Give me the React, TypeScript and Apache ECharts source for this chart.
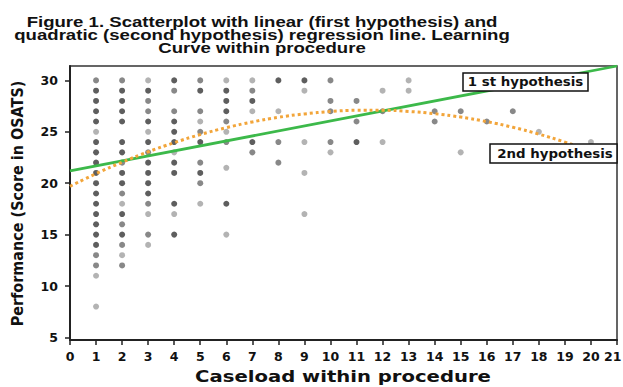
import React, { useEffect, useRef } from "react";
import * as echarts from "echarts";

// Scatter points [caseload, score], grouped by how dark the dot appears (overlap density)
const darkPoints: number[][] = [
  [1, 29], [1, 28], [1, 27], [1, 26], [1, 24], [1, 23], [1, 22], [1, 21], [1, 20], [1, 19], [1, 18], [1, 17], [1, 16], [1, 15], [1, 14],
  [2, 29], [2, 28], [2, 27], [2, 26], [2, 24], [2, 23], [2, 21], [2, 20], [2, 17], [2, 15],
  [3, 29], [3, 26], [3, 24], [3, 22], [3, 21], [3, 20], [3, 19],
  [4, 30], [4, 26], [4, 25], [4, 24], [4, 22], [4, 21], [4, 18], [4, 15],
  [5, 29], [5, 24], [5, 21],
  [6, 29], [6, 28], [6, 27], [6, 18],
  [7, 28], [7, 24],
  [8, 30], [9, 30], [11, 24],
];
const midPoints: number[][] = [
  [1, 30], [1, 13], [1, 12],
  [2, 30], [2, 22], [2, 19], [2, 16], [2, 14], [2, 12],
  [3, 28], [3, 27], [3, 23], [3, 18], [3, 15],
  [4, 29], [4, 27],
  [5, 30], [5, 27], [5, 25], [5, 22], [5, 20],
  [6, 26], [6, 24],
  [7, 29], [7, 23],
  [8, 24], [8, 22],
  [10, 30], [10, 28], [10, 27], [10, 24],
  [11, 28], [11, 26],
  [12, 27], [14, 27], [14, 26], [15, 27], [16, 26], [17, 27],
];
const lightPoints: number[][] = [
  [1, 25], [1, 11], [1, 8],
  [2, 18], [2, 13],
  [3, 30], [3, 25], [3, 17], [3, 14],
  [4, 23], [4, 17],
  [5, 26], [5, 18],
  [6, 30], [6, 25], [6, 21.5], [6, 15],
  [7, 30], [7, 27],
  [8, 27],
  [9, 29], [9, 24], [9, 21], [9, 17],
  [10, 23],
  [12, 29], [12, 24],
  [13, 30], [13, 29],
  [15, 23], [18, 25], [20, 24],
];

// Linear fit (first hypothesis), read at both ends
const linearX = [0, 21];
const linearY = [21.2, 31.4];

// Quadratic fit (second hypothesis), read at each integer caseload
const quadX = [0, 1, 2, 3, 4, 5, 6, 7, 8, 9, 10, 11, 12, 13, 14, 15, 16, 17, 18, 19, 20, 21];
const quadY = [19.7, 20.93, 22.04, 23.05, 23.94, 24.73, 25.4, 25.96, 26.41, 26.74, 26.97, 27.09, 27.09, 26.98, 26.76, 26.43, 25.99, 25.44, 24.77, 24.0, 23.11, 22.12];

const yTicks = [5, 10, 15, 20, 25, 30];
const xMax = 21;

const titleLines = [
  "Figure 1. Scatterplot with linear (first hypothesis) and",
  "quadratic (second hypothesis) regression line. Learning",
  "Curve within procedure",
];

const FONT = '"DejaVu Sans", Verdana, sans-serif';
const ARIAL = '"Liberation Sans", Arial, sans-serif';

export default function App() {
  const ref = useRef<HTMLDivElement>(null);
  useEffect(() => {
    if (!ref.current) return;
    const chart = echarts.init(ref.current, undefined, { renderer: "svg" });
    const dot = (data: number[][], color: string) => ({
      type: "scatter",
      data,
      symbolSize: 6,
      itemStyle: { color },
      z: 2,
    });
    const option: any = {
      animation: false,
      backgroundColor: "#ffffff",
      grid: {
        left: 70,
        right: 6,
        top: 66,
        bottom: 47,
        show: true,
        borderColor: "#333",
        borderWidth: 1.5,
        containLabel: false,
        outerBoundsMode: "none",
      },
      xAxis: {
        type: "value",
        min: 0,
        max: xMax,
        interval: 1,
        axisLine: { show: true, lineStyle: { color: "#222", width: 2 } },
        axisTick: { show: true, length: 5, lineStyle: { color: "#222", width: 1.5 } },
        splitLine: { show: false },
        axisLabel: {
          color: "#111",
          fontFamily: FONT,
          fontWeight: "bold",
          fontSize: 12.5,
          margin: 10,
          showMinLabel: true,
          showMaxLabel: true,
          formatter: (v: number) => (v === xMax ? `{e|${v}}` : String(v)),
          rich: {
            e: {
              width: 26,
              align: "left",
              color: "#111",
              fontFamily: FONT,
              fontWeight: "bold",
              fontSize: 12.5,
            },
          },
        },
      },
      yAxis: {
        type: "value",
        min: 4.75,
        max: 31.4,
        axisLine: { show: true, lineStyle: { color: "#222", width: 2 } },
        axisTick: { show: true, length: 5, customValues: yTicks, lineStyle: { color: "#222", width: 1.5 } },
        splitLine: { show: false },
        axisLabel: {
          customValues: yTicks,
          color: "#111",
          fontFamily: FONT,
          fontWeight: "bold",
          fontSize: 12.5,
          margin: 12,
        },
      },
      series: [
        dot(lightPoints, "#a0a0a0"),
        dot(midPoints, "#6a6a6a"),
        dot(darkPoints, "#363636"),
        {
          type: "line",
          data: linearX.map((x, i) => [x, linearY[i]]),
          showSymbol: false,
          lineStyle: { color: "#3cb94a", width: 2.8 },
          z: 3,
        },
        {
          type: "line",
          data: quadX.map((x, i) => [x, quadY[i]]),
          showSymbol: false,
          smooth: true,
          lineStyle: { color: "#f2a53a", width: 3, type: [3, 3] },
          z: 4,
        },
      ],
      graphic: [
        ...titleLines.map((t, i) => ({
          type: "text",
          x: 262,
          y: [21.7, 35, 47.7][i],
          scaleX: 1.24,
          z: 10,
          style: {
            text: t,
            font: `bold 15px ${ARIAL}`,
            textAlign: "center",
            textVerticalAlign: "middle",
            fill: "#111",
          },
        })),
        {
          type: "text",
          x: 17.5,
          y: 203.5,
          rotation: Math.PI / 2,
          scaleY: 1.1,
          z: 10,
          style: {
            text: "Performance (Score in OSATS)",
            font: `bold 14.4px ${FONT}`,
            textAlign: "center",
            textVerticalAlign: "middle",
            fill: "#111",
          },
        },
        {
          type: "text",
          x: 343,
          y: 376.5,
          scaleX: 1.19,
          z: 10,
          style: {
            text: "Caseload within procedure",
            font: `bold 16.5px ${FONT}`,
            textAlign: "center",
            textVerticalAlign: "middle",
            fill: "#111",
          },
        },
        {
          type: "rect",
          shape: { x: 463, y: 73, width: 125, height: 18 },
          z: 20,
          style: { fill: "#fff", stroke: "#111", lineWidth: 1.5 },
        },
        {
          type: "text",
          x: 525.5,
          y: 82,
          scaleX: 1.07,
          z: 21,
          style: {
            text: "1 st hypothesis",
            font: `bold 12.5px ${FONT}`,
            textAlign: "center",
            textVerticalAlign: "middle",
            fill: "#111",
          },
        },
        {
          type: "rect",
          shape: { x: 490, y: 144, width: 127, height: 19 },
          z: 20,
          style: { fill: "#fff", stroke: "#111", lineWidth: 1.5 },
        },
        {
          type: "text",
          x: 555,
          y: 153.5,
          scaleX: 1.07,
          z: 21,
          style: {
            text: "2nd hypothesis",
            font: `bold 12.5px ${FONT}`,
            textAlign: "center",
            textVerticalAlign: "middle",
            fill: "#111",
          },
        },
      ],
    };
    chart.setOption(option);
    return () => chart.dispose();
  }, []);
  return (
    <div
      ref={ref}
      style={{ position: "fixed", left: 0, top: 0, width: 623, height: 387, background: "#fff" }}
    />
  );
}
